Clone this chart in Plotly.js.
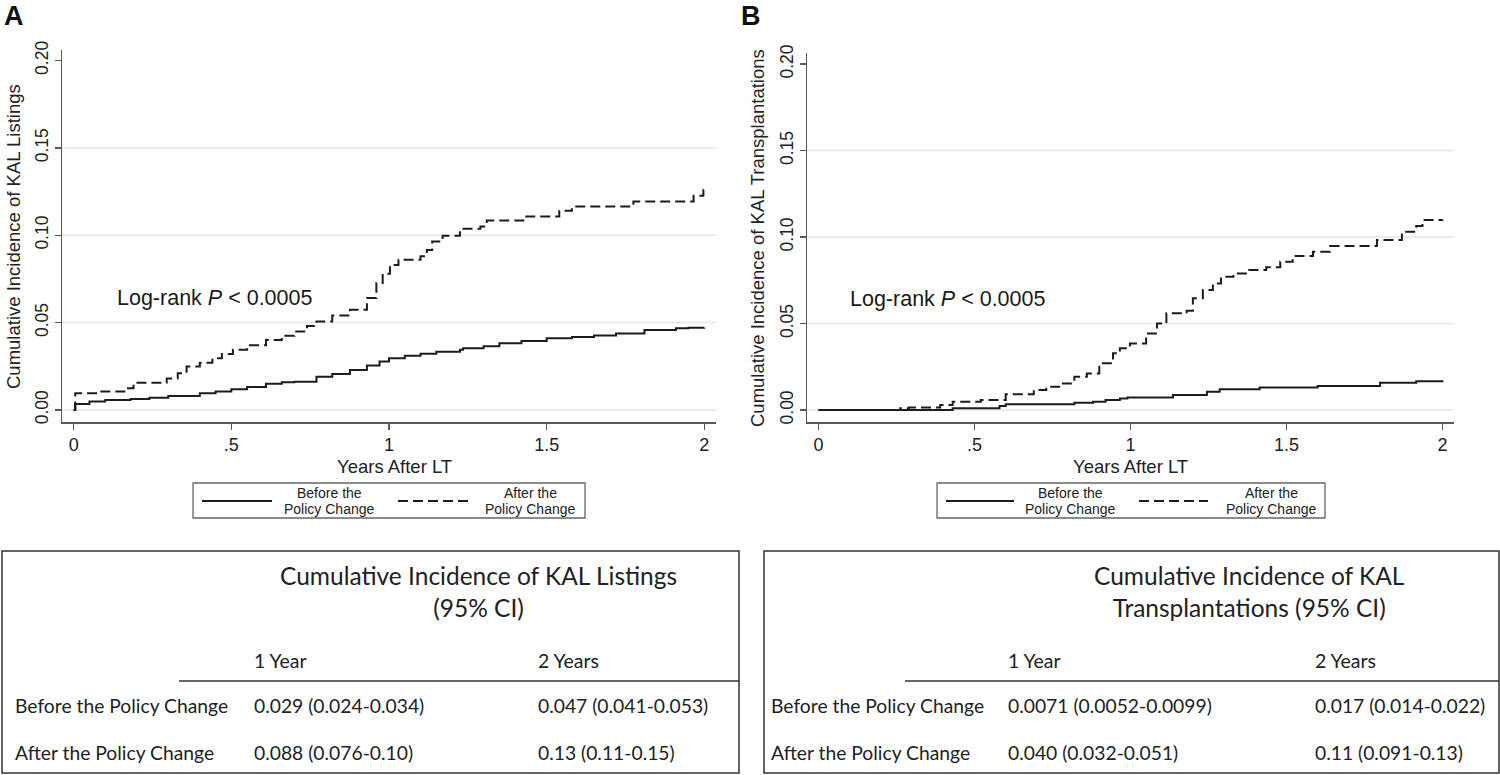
<!DOCTYPE html>
<html>
<head>
<meta charset="utf-8">
<script src="https://cdn.plot.ly/plotly-3.0.1.min.js"></script>
<style>
  html, body { margin: 0; padding: 0; background: #fff; }
  #chart { width: 1500px; height: 775px; }
</style>
</head>
<body>
<div id="chart"></div>
<script>
// Panel A: cumulative incidence of KAL listings (years after LT)
const yearsBeforeA = [0, 0.005, 0.05, 0.1, 0.18, 0.24, 0.3, 0.4, 0.45, 0.5, 0.55, 0.61, 0.66, 0.7, 0.77, 0.82, 0.876, 0.93, 0.97, 1.0, 1.05, 1.1, 1.15, 1.225, 1.235, 1.3, 1.35, 1.42, 1.5, 1.58, 1.65, 1.72, 1.81, 1.91, 1.95, 2.0];
const incBeforeA = [0, 0.0034, 0.0048, 0.0057, 0.0063, 0.007, 0.008, 0.0095, 0.0105, 0.0118, 0.0132, 0.015, 0.0158, 0.0162, 0.019, 0.0205, 0.0229, 0.0255, 0.0277, 0.0296, 0.031, 0.0322, 0.0333, 0.0344, 0.0353, 0.0365, 0.0382, 0.0395, 0.041, 0.0418, 0.0426, 0.0438, 0.0458, 0.0468, 0.047, 0.0471];
const yearsAfterA = [0, 0.005, 0.08, 0.168, 0.19, 0.295, 0.33, 0.358, 0.4, 0.44, 0.47, 0.505, 0.55, 0.61, 0.66, 0.7, 0.74, 0.77, 0.82, 0.876, 0.93, 0.96, 0.98, 1.003, 1.03, 1.1, 1.12, 1.137, 1.17, 1.225, 1.29, 1.31, 1.426, 1.54, 1.58, 1.775, 1.966, 1.997, 2.0];
const incAfterA = [0, 0.0095, 0.0105, 0.0124, 0.0156, 0.018, 0.021, 0.0248, 0.027, 0.0296, 0.032, 0.0344, 0.037, 0.04, 0.0425, 0.0449, 0.048, 0.0506, 0.054, 0.0573, 0.064, 0.0727, 0.078, 0.083, 0.0859, 0.088, 0.0916, 0.0964, 0.0997, 0.1037, 0.105, 0.1084, 0.1107, 0.114, 0.1164, 0.1193, 0.1226, 0.126, 0.126];

// Panel B: cumulative incidence of KAL transplantations
const yearsBeforeB = [0, 0.42, 0.43, 0.58, 0.6, 0.82, 0.88, 0.92, 0.966, 0.99, 1.136, 1.245, 1.286, 1.414, 1.6, 1.8, 1.916, 2.0];
const incBeforeB = [0, 0, 0.001, 0.0023, 0.0033, 0.0042, 0.0048, 0.0058, 0.0067, 0.0073, 0.0087, 0.0106, 0.012, 0.0131, 0.0139, 0.0158, 0.0166, 0.0173];
const yearsAfterB = [0, 0.262, 0.29, 0.39, 0.43, 0.52, 0.6, 0.69, 0.73, 0.775, 0.82, 0.86, 0.9, 0.944, 0.966, 0.998, 1.05, 1.085, 1.115, 1.18, 1.2, 1.232, 1.264, 1.29, 1.33, 1.38, 1.435, 1.48, 1.52, 1.585, 1.64, 1.79, 1.87, 1.916, 1.936, 2.0];
const incAfterB = [0, 0.001, 0.0015, 0.0029, 0.0048, 0.0058, 0.0091, 0.0116, 0.0135, 0.0154, 0.0193, 0.0212, 0.027, 0.0328, 0.0357, 0.0385, 0.0443, 0.05, 0.0559, 0.0574, 0.0646, 0.0694, 0.0732, 0.077, 0.079, 0.081, 0.0825, 0.0857, 0.089, 0.0915, 0.0948, 0.0983, 0.1031, 0.1064, 0.1098, 0.11];

const xTickVals = [0, 0.5, 1, 1.5, 2];
const xTickText = ["0", ".5", "1", "1.5", "2"];
const yTickVals = [0, 0.05, 0.1, 0.15, 0.2];
const gridVals = [0, 0.05, 0.1, 0.15];

const seriesNames = [["Before the", "Policy Change"], ["After the", "Policy Change"]];
const yTitles = ["Cumulative Incidence of KAL Listings", "Cumulative Incidence of KAL Transplantations"];
const xTitle = "Years After LT";
const pValueText = "Log-rank <i>P</i> < 0.0005";

const tableTitles = ["Cumulative Incidence of KAL Listings<br>(95% CI)", "Cumulative Incidence of KAL<br>Transplantations (95% CI)"];
const tableCols = ["1 Year", "2 Years"];
const tableRows = ["Before the Policy Change", "After the Policy Change"];
const tableA = [
  ["0.029 (0.024-0.034)", "0.047 (0.041-0.053)"],
  ["0.088 (0.076-0.10)", "0.13 (0.11-0.15)"],
];
const tableB = [
  ["0.0071 (0.0052-0.0099)", "0.017 (0.014-0.022)"],
  ["0.040 (0.032-0.051)", "0.11 (0.091-0.13)"],
];

const W = 1500;
const H = 775;
const px = (p) => p / W;
const py = (p) => 1 - p / H;

const ink = "#1c1c1c";
const axisColor = "#595959";
const chartFont = "Liberation Sans, Arial, sans-serif";
const tableFont = "Lato, sans-serif";

function curve(x, y, name, dash, xa, ya) {
  return {
    x, y, name,
    xaxis: xa, yaxis: ya,
    type: "scatter",
    mode: "lines",
    line: { color: ink, width: 2, shape: "hv", dash },
    showlegend: false,
    hoverinfo: "x+y",
  };
}

function xAxis(left, right) {
  return {
    domain: [px(left), px(right)],
    range: [-0.037, 2.037],
    tickvals: xTickVals,
    ticktext: xTickText,
    ticks: "outside",
    ticklen: 6,
    tickwidth: 1.3,
    tickcolor: axisColor,
    showline: true,
    linecolor: axisColor,
    linewidth: 1.5,
    showgrid: false,
    zeroline: false,
    tickfont: { family: chartFont, size: 18, color: "#222" },
    fixedrange: true,
  };
}

function yAxis(anchor, top) {
  return {
    anchor,
    domain: [py(422), py(top)],
    range: [-0.0069, top === 50 ? 0.206 : 0.2064],
    tickvals: yTickVals,
    tickformat: ".2f",
    tickangle: -90,
    ticks: "outside",
    ticklen: 6,
    tickwidth: 1.3,
    tickcolor: axisColor,
    showline: true,
    linecolor: axisColor,
    linewidth: 1.5,
    showgrid: false,
    zeroline: false,
    tickfont: { family: chartFont, size: 17.5, color: "#222" },
    fixedrange: true,
  };
}

const traces = [
  curve(yearsBeforeA, incBeforeA, "Before the Policy Change", "solid", "x", "y"),
  curve(yearsAfterA, incAfterA, "After the Policy Change", "10px,5px", "x", "y"),
  curve(yearsBeforeB, incBeforeB, "Before the Policy Change", "solid", "x2", "y2"),
  curve(yearsAfterB, incAfterB, "After the Policy Change", "10px,5px", "x2", "y2"),
];

const shapes = [];
const annotations = [];

// text placed by pixel position, anchored explicitly
function label(x, y, text, size, opts = {}) {
  annotations.push({
    xref: "paper", yref: "paper", x: px(x), y: py(y),
    xanchor: opts.xanchor || "center", yanchor: "middle",
    text, showarrow: false, textangle: opts.angle || 0,
    font: { family: opts.family || chartFont, size, color: opts.color || "#222" },
  });
}

// horizontal grid lines
["y", "y2"].forEach((ya, i) => {
  const xa = i === 0 ? "x" : "x2";
  gridVals.forEach((g) => {
    shapes.push({
      type: "line", layer: "below",
      xref: xa + " domain", yref: ya,
      x0: 0, x1: 1, y0: g, y1: g,
      line: { color: "#e6e6e6", width: 1.5 },
    });
  });
});

// panel letters
label(14, 16, "<b>A</b>", 27, { color: "#111" });
label(751, 16, "<b>B</b>", 27, { color: "#111" });

// axis titles
label(14, 237, yTitles[0], 18.5, { angle: -90 });
label(757, 238, yTitles[1], 18.5, { angle: -90 });
label(394, 466, xTitle, 18.5);
label(1130, 466, xTitle, 18.5);

// log-rank text
[["x", "y", 0.13], ["x2", "y2", 0.093]].forEach(([xa, ya, xv]) => {
  annotations.push({
    xref: xa, yref: ya, x: xv, y: 0.064,
    xanchor: "left", yanchor: "middle", text: pValueText, showarrow: false,
    font: { family: chartFont, size: 21.5, color: "#1a1a1a" },
  });
});

// legends
[[193, 585, 202, 272, 329, 398, 468, 530], [937, 1325, 946, 1014, 1070, 1139, 1208, 1271]].forEach((L) => {
  const [bx0, bx1, s0, s1, t1, d0, d1, t2] = L;
  shapes.push({
    type: "rect", xref: "paper", yref: "paper",
    x0: px(bx0), x1: px(bx1), y0: py(483), y1: py(518),
    line: { color: "#666", width: 1.3 },
  });
  shapes.push({
    type: "line", xref: "paper", yref: "paper",
    x0: px(s0), x1: px(s1), y0: py(501), y1: py(501),
    line: { color: ink, width: 2 },
  });
  shapes.push({
    type: "line", xref: "paper", yref: "paper",
    x0: px(d0), x1: px(d1), y0: py(501), y1: py(501),
    line: { color: ink, width: 2, dash: "10px,5px" },
  });
  [t1, t2].forEach((tx, k) => {
    label(tx, 493, seriesNames[k][0], 14);
    label(tx, 509, seriesNames[k][1], 14);
  });
});

// tables below the plots
function addTable(cfg, rows, title) {
  shapes.push({
    type: "rect", xref: "paper", yref: "paper",
    x0: px(cfg.left), x1: px(cfg.right), y0: py(551), y1: py(773),
    line: { color: "#333", width: 1.5 },
  });
  shapes.push({
    type: "line", xref: "paper", yref: "paper",
    x0: px(cfg.rule), x1: px(cfg.right), y0: py(681), y1: py(681),
    line: { color: "#333", width: 1.5 },
  });
  label(cfg.titleX, 591, title, 24.5, { family: tableFont });
  tableCols.forEach((c, j) => {
    label(cfg.cols[j], 660, c, 19.5, { family: tableFont, xanchor: "left" });
  });
  tableRows.forEach((r, i) => {
    const yy = i === 0 ? 705 : 752;
    label(cfg.label, yy, r, 19.3, { family: tableFont, xanchor: "left" });
    rows[i].forEach((v, j) => {
      label(cfg.cols[j], yy, v, 19.3, { family: tableFont, xanchor: "left" });
    });
  });
}

addTable({ left: 2, right: 739, rule: 179, titleX: 478, label: 13, cols: [252, 536] }, tableA, tableTitles[0]);
addTable({ left: 764, right: 1499, rule: 905, titleX: 1249, label: 769, cols: [1006, 1313] }, tableB, tableTitles[1]);

const layout = {
  width: W,
  height: H,
  margin: { l: 0, r: 0, t: 0, b: 0 },
  paper_bgcolor: "#fff",
  plot_bgcolor: "#fff",
  showlegend: false,
  font: { family: chartFont, color: "#222" },
  xaxis: { ...xAxis(62, 716), anchor: "y" },
  yaxis: yAxis("x", 50),
  xaxis2: { ...xAxis(807, 1454), anchor: "y2" },
  yaxis2: yAxis("x2", 53),
  shapes,
  annotations,
};

Plotly.newPlot("chart", traces, layout, { displayModeBar: false, staticPlot: true });
</script>
</body>
</html>
